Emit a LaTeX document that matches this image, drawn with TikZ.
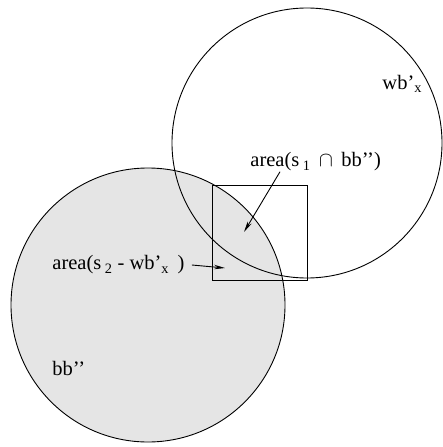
\documentclass[tikz,border=0pt]{standalone}
\usepackage{fontspec}
\setmainfont{Liberation Serif}
\usetikzlibrary{arrows.meta}
\begin{document}
\begin{tikzpicture}[x=1pt, y=-1pt, line width=0.9pt, >={Stealth[length=11pt,width=4.5pt]},
    region/.style={circle, draw, inner sep=0pt},
    lbl/.style={inner sep=0pt, anchor=west, font=\fontsize{20.5}{24}\selectfont}]
    % Rahmen
    \useasboundingbox (0,0) rectangle (443,447);
    
    % Kreise
    \node[region, fill=gray!20, minimum size=274pt] (bb) at (148,305) {};
    \node[region, minimum size=270pt] (wb) at (307,143) {};
    
    % Fenster
    \node[draw, minimum size=95pt, inner sep=0pt] (win) at (259.5,232.5) {};
    
    % Beschriftungen
    \node[lbl] (wblbl) at (382,84) {wb'\textsubscript{x}};
    \node[lbl] (capl) at (250,162) {area(s\,\textsubscript{1} \,$\cap$\, bb'{}')};
    \node[lbl] (diffl) at (52,265) {area(s\,\textsubscript{2} - wb'\textsubscript{x}\, )};
    \node[lbl] (bbl) at (52,368) {bb'{}'};
    
    % Pfeile
    \coordinate (capin) at (244,232);
    \coordinate (diffin) at (225,268);
    \draw[->] ([xshift=30pt]capl.south west) -- (capin);
    \draw[->] ([xshift=7pt]diffl.east) -- (diffin);
\end{tikzpicture}
\end{document}
